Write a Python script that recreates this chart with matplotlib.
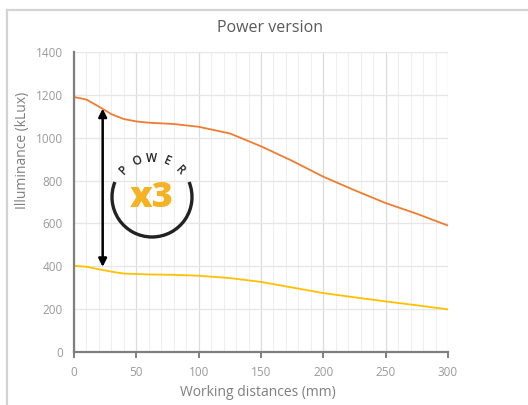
import numpy as np
import matplotlib.pyplot as plt
from matplotlib.patches import Arc
from matplotlib.lines import Line2D
from matplotlib.ticker import MultipleLocator

# Данные графика
distance = [0, 10, 20, 30, 40, 50, 60, 80, 100, 125, 150, 175, 200, 225, 250, 275, 300]
power_lux = [1190, 1178, 1145, 1110, 1087, 1076, 1070, 1064, 1051, 1020, 960, 892,
             818, 755, 695, 645, 590]
standard_lux = [402, 398, 386, 375, 366, 364, 362, 360, 356, 345, 327, 301,
                275, 255, 236, 218, 199]

title = 'Power version'
x_label = 'Working distances (mm)'
y_label = 'Illuminance (kLux)'
badge_word = 'POWER'
badge_factor = 'x3'

plt.rcParams['font.family'] = ['Open Sans', 'DejaVu Sans']

W, H = 528, 405
fig = plt.figure(figsize=(W / 100, H / 100), dpi=100)

# рамка карточки (верх и левый край)
fig.add_artist(Line2D([7 / W, 1.0], [1 - 10 / H, 1 - 10 / H],
                      transform=fig.transFigure, color='#d4d4d4', lw=1.6))
fig.add_artist(Line2D([7 / W, 7 / W], [0, 1 - 10 / H],
                      transform=fig.transFigure, color='#d4d4d4', lw=1.6))

ax = fig.add_axes([74 / W, 53 / H, 374 / W, 300 / H])
ax.set_xlim(0, 300)
ax.set_ylim(0, 1400)

ax.plot(distance, power_lux, color='#ED7D31', linewidth=1.3)
ax.plot(distance, standard_lux, color='#FFC000', linewidth=1.3)

# сетка
ax.xaxis.set_major_locator(MultipleLocator(50))
ax.xaxis.set_minor_locator(MultipleLocator(10))
ax.yaxis.set_major_locator(MultipleLocator(200))
ax.grid(which='major', axis='x', color='#dcdcdc', linewidth=0.9)
ax.grid(which='minor', axis='x', color='#efefef', linewidth=0.8)
ax.grid(which='major', axis='y', color='#e6e6e6', linewidth=0.9)
ax.set_axisbelow(True)

for s in ['top', 'right']:
    ax.spines[s].set_visible(False)
for s in ['left', 'bottom']:
    ax.spines[s].set_color('#7f7f7f')
    ax.spines[s].set_linewidth(1.6)

ax.tick_params(axis='x', which='major', direction='out', length=4, width=1.4,
               color='#7f7f7f', labelsize=8.5, labelcolor='#9a9a9a', pad=6)
ax.tick_params(axis='x', which='minor', length=0)
ax.tick_params(axis='y', length=0, labelsize=8.5, labelcolor='#9a9a9a', pad=8)

fig.text(270 / W, 1 - 28 / H, title, ha='center', va='center',
         fontsize=11.5, color='#595959')
fig.text(258 / W, 1 - 392 / H, x_label, ha='center', va='center',
         fontsize=10, color='#7f7f7f')
fig.text(23 / W, 1 - 150 / H, y_label, ha='center', va='center',
         rotation=90, fontsize=10, color='#7f7f7f')

# двойная стрелка между кривыми
ax.annotate('', xy=(23, 397), xytext=(23, 1136),
            arrowprops=dict(arrowstyle='<|-|>', color='black', lw=1.8,
                            mutation_scale=12, shrinkA=0, shrinkB=0))

# значок "POWER x3"
bx = fig.add_axes([(152 - 50) / W, (H - 197 - 50) / H, 100 / W, 100 / H])
bx.set_xlim(-50, 50)
bx.set_ylim(-50, 50)
bx.set_aspect('equal')
bx.axis('off')
bx.patch.set_alpha(0)
bx.add_patch(Arc((0, 0), 80, 80, theta1=158, theta2=22, color='#222222', lw=2.4))
angles = np.linspace(136, 44, len(badge_word))
for ch, a in zip(badge_word, angles):
    r = np.radians(a)
    bx.text(39 * np.cos(r), 39 * np.sin(r), ch, ha='center', va='center',
            rotation=a - 90, fontsize=8.5, fontweight='semibold', color='#222222')
bx.text(0, -1, badge_factor, ha='center', va='center', fontsize=26,
        fontweight='heavy', color='#F5B324')

fig.savefig('out.png', dpi=100)
